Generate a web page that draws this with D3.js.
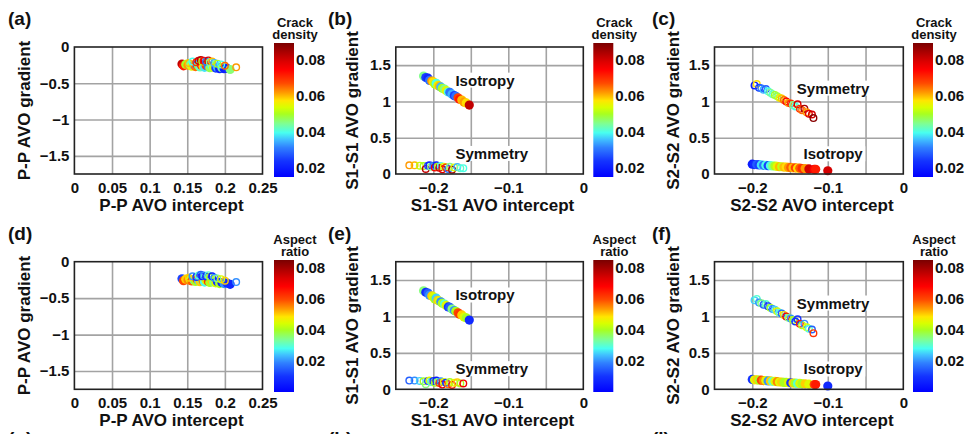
<!doctype html>
<html lang="en">
<head>
<meta charset="utf-8">
<title>AVO intercept and gradient</title>
<script src="https://d3js.org/d3.v7.min.js"></script>
<style>
  body { margin: 0; background: #fff; }
  svg text { font-family: "Liberation Sans", Arial, sans-serif; font-weight: bold; fill: #111; }
</style>
</head>
<body>
<svg width="968" height="434"></svg>
<script>
var svg = d3.select('svg');

// P-P: isotropic background (filled) and symmetry (open)
var ppIsoX = [0.143, 0.145, 0.148, 0.151, 0.154, 0.156, 0.159, 0.161, 0.163, 0.165, 0.167, 0.169, 0.171, 0.173, 0.175, 0.178, 0.180, 0.183, 0.185, 0.188, 0.190, 0.193, 0.196, 0.199, 0.203, 0.207];
var ppIsoY = [-0.235, -0.26, -0.24, -0.25, -0.245, -0.265, -0.25, -0.27, -0.24, -0.26, -0.275, -0.25, -0.265, -0.28, -0.255, -0.27, -0.285, -0.26, -0.28, -0.29, -0.275, -0.30, -0.285, -0.30, -0.295, -0.31];
var ppIsoCrack = [0.082, 0.072, 0.05, 0.062, 0.045, 0.055, 0.035, 0.065, 0.028, 0.052, 0.042, 0.075, 0.058, 0.038, 0.068, 0.03, 0.048, 0.04, 0.055, 0.025, 0.035, 0.02, 0.045, 0.02, 0.022, 0.046];
var ppIsoAspect = [0.012, 0.06, 0.05, 0.055, 0.045, 0.058, 0.03, 0.04, 0.06, 0.025, 0.05, 0.035, 0.055, 0.028, 0.045, 0.062, 0.04, 0.05, 0.035, 0.045, 0.01, 0.04, 0.005, 0.02, 0.01, 0.008];

var ppSymX = [0.152, 0.157, 0.162, 0.165, 0.168, 0.170, 0.172, 0.175, 0.178, 0.180, 0.183, 0.186, 0.190, 0.195, 0.200, 0.215];
var ppSymY = [-0.22, -0.20, -0.21, -0.19, -0.18, -0.20, -0.19, -0.20, -0.185, -0.21, -0.20, -0.22, -0.23, -0.24, -0.26, -0.28];
var ppSymCrack = [0.06, 0.04, 0.07, 0.08, 0.083, 0.05, 0.075, 0.03, 0.08, 0.045, 0.06, 0.035, 0.05, 0.04, 0.065, 0.062];
var ppSymAspect = [0.05, 0.02, 0.01, 0.03, 0.015, 0.005, 0.02, 0.01, 0.03, 0.04, 0.005, 0.02, 0.035, 0.045, 0.05, 0.02];

// S1-S1
var s1IsoX = [-0.213, -0.210, -0.207, -0.205, -0.202, -0.200, -0.198, -0.196, -0.194, -0.192, -0.190, -0.188, -0.185, -0.183, -0.180, -0.178, -0.175, -0.172, -0.170, -0.167, -0.165, -0.162, -0.159, -0.156, -0.152];
var s1IsoY = [1.35, 1.33, 1.32, 1.29, 1.28, 1.27, 1.24, 1.25, 1.22, 1.21, 1.2, 1.18, 1.17, 1.15, 1.13, 1.125, 1.1, 1.08, 1.07, 1.05, 1.03, 1.02, 0.99, 0.98, 0.95];
var s1IsoCrack = [0.045, 0.025, 0.022, 0.03, 0.062, 0.058, 0.05, 0.04, 0.055, 0.06, 0.035, 0.05, 0.045, 0.055, 0.04, 0.03, 0.035, 0.025, 0.03, 0.068, 0.072, 0.06, 0.062, 0.058, 0.082];
var s1IsoAspect = [0.035, 0.008, 0.015, 0.02, 0.05, 0.045, 0.04, 0.025, 0.05, 0.045, 0.02, 0.04, 0.03, 0.045, 0.01, 0.015, 0.035, 0.02, 0.04, 0.06, 0.062, 0.05, 0.045, 0.04, 0.008];

var s1SymX = [-0.232, -0.225, -0.218, -0.213, -0.210, -0.207, -0.205, -0.203, -0.200, -0.198, -0.196, -0.194, -0.192, -0.190, -0.188, -0.186, -0.183, -0.180, -0.178, -0.175, -0.172, -0.168, -0.164, -0.160];
var s1SymY = [0.12, 0.12, 0.115, 0.11, 0.07, 0.115, 0.12, 0.1, 0.115, 0.09, 0.12, 0.1, 0.085, 0.11, 0.065, 0.1, 0.09, 0.07, 0.1, 0.06, 0.09, 0.095, 0.08, 0.08];
var s1SymCrack = [0.062, 0.06, 0.052, 0.05, 0.082, 0.025, 0.022, 0.045, 0.03, 0.075, 0.02, 0.05, 0.08, 0.04, 0.078, 0.055, 0.07, 0.03, 0.045, 0.085, 0.055, 0.035, 0.042, 0.04];
var s1SymAspect = [0.015, 0.02, 0.025, 0.04, 0.035, 0.01, 0.045, 0.03, 0.01, 0.04, 0.005, 0.035, 0.06, 0.02, 0.07, 0.045, 0.01, 0.055, 0.04, 0.065, 0.045, 0.05, 0.04, 0.07];

// S2-S2
var s2SymX = [-0.197, -0.194, -0.191, -0.188, -0.185, -0.182, -0.179, -0.176, -0.173, -0.170, -0.167, -0.164, -0.161, -0.158, -0.155, -0.152, -0.149, -0.146, -0.143, -0.140, -0.137, -0.134, -0.131, -0.128, -0.125, -0.121, -0.119];
var s2SymY = [1.22, 1.24, 1.19, 1.18, 1.16, 1.17, 1.14, 1.12, 1.10, 1.09, 1.07, 1.05, 1.04, 1.02, 1.00, 0.98, 0.97, 0.95, 0.93, 0.96, 0.90, 0.88, 0.90, 0.85, 0.83, 0.82, 0.77];
var s2SymCrack = [0.02, 0.058, 0.025, 0.03, 0.035, 0.028, 0.04, 0.045, 0.042, 0.05, 0.048, 0.055, 0.06, 0.065, 0.075, 0.062, 0.07, 0.045, 0.04, 0.08, 0.07, 0.065, 0.085, 0.062, 0.078, 0.08, 0.088];
var s2SymAspect = [0.025, 0.03, 0.02, 0.035, 0.015, 0.03, 0.01, 0.04, 0.02, 0.025, 0.045, 0.03, 0.015, 0.05, 0.07, 0.035, 0.02, 0.04, 0.01, 0.01, 0.065, 0.04, 0.02, 0.045, 0.03, 0.015, 0.062];

var s2IsoX = [-0.200, -0.197, -0.194, -0.191, -0.188, -0.185, -0.182, -0.179, -0.176, -0.173, -0.170, -0.167, -0.164, -0.161, -0.158, -0.155, -0.152, -0.149, -0.146, -0.143, -0.140, -0.137, -0.134, -0.130, -0.125, -0.118, -0.116, -0.100];
var s2IsoY = [0.135, 0.13, 0.13, 0.125, 0.125, 0.12, 0.12, 0.115, 0.115, 0.11, 0.11, 0.105, 0.10, 0.10, 0.095, 0.095, 0.09, 0.09, 0.085, 0.085, 0.08, 0.08, 0.075, 0.075, 0.07, 0.065, 0.065, 0.045];
var s2IsoCrack = [0.02, 0.022, 0.028, 0.025, 0.038, 0.03, 0.04, 0.025, 0.04, 0.045, 0.05, 0.055, 0.06, 0.052, 0.06, 0.058, 0.062, 0.066, 0.06, 0.068, 0.058, 0.066, 0.07, 0.062, 0.08, 0.075, 0.072, 0.08];
var s2IsoAspect = [0.01, 0.045, 0.05, 0.04, 0.06, 0.055, 0.045, 0.02, 0.05, 0.03, 0.045, 0.055, 0.045, 0.05, 0.04, 0.04, 0.045, 0.01, 0.05, 0.04, 0.03, 0.045, 0.04, 0.05, 0.045, 0.06, 0.065, 0.008];

// ticks
var ppXTicks = [0, 0.05, 0.1, 0.15, 0.2, 0.25];
var ppYTicks = [0, -0.5, -1, -1.5];
var sXTicks = [-0.2, -0.1, 0];
var sXGrid = [-0.2, -0.15, -0.1, -0.05];
var sYTicks = [0, 0.5, 1, 1.5];
var barTicks = [0.02, 0.04, 0.06, 0.08];

// jet-like colour map, bottom -> top
var cmapPos = [0, 0.12, 0.22, 0.28, 0.33, 0.40, 0.47, 0.52, 0.57, 0.63, 0.70, 0.80, 0.86, 1.0];
var cmapCol = ['#0000ff', '#1434ff', '#3080ff', '#40c0ff', '#48fff0', '#80ff90', '#a8ff20', '#d8ff00', '#ffe600', '#ff9a00', '#ff4a00', '#ff0000', '#dd0000', '#7a0000'];
var cmap = d3.scaleLinear().domain(cmapPos).range(cmapCol).clamp(true);

var grad = svg.append('defs').append('linearGradient')
  .attr('id', 'jet').attr('x1', 0).attr('y1', 1).attr('x2', 0).attr('y2', 0);
cmapPos.forEach(function(p, i){
  grad.append('stop').attr('offset', p).attr('stop-color', cmapCol[i]);
});

var cols = [
  {x0: 74.4, x1: 262.5, bar: 274, ylab: 30, lab: 8},
  {x0: 395.8, x1: 583.3, bar: 593.3, ylab: 358, lab: 328},
  {x0: 714.5, x1: 903.3, bar: 913, ylab: 679, lab: 652}
];
var rows = [
  {y0: 47, y1: 174, b0: 43, b1: 177, dom: [0.015, 0.0895], title: ['Crack', 'density'], key: 'crack', labY: 25},
  {y0: 261.7, y1: 389.3, b0: 260, b1: 392, dom: [0, 0.085], title: ['Aspect', 'ratio'], key: 'aspect', labY: 240}
];

function series(x, y, crack, aspect, filled){
  return x.map(function(d, i){ return {x: d, y: y[i], crack: crack[i], aspect: aspect[i], filled: filled}; });
}

var kinds = [
  {
    xdom: [0, 0.25], ydom: [-1.75, 0], xticks: ppXTicks, xgrid: [0.05, 0.1, 0.15, 0.2], yticks: ppYTicks, ygrid: [-0.5, -1, -1.5],
    xlab: 'P-P AVO intercept', ylab: 'P-P AVO gradient',
    pts: series(ppIsoX, ppIsoY, ppIsoCrack, ppIsoAspect, true).concat(series(ppSymX, ppSymY, ppSymCrack, ppSymAspect, false)),
    notes: []
  },
  {
    xdom: [-0.25, 0], ydom: [0, 1.75], xticks: sXTicks, xgrid: sXGrid, yticks: sYTicks, ygrid: [0.5, 1, 1.5],
    xlab: 'S1-S1 AVO intercept', ylab: 'S1-S1 AVO gradient',
    pts: series(s1SymX, s1SymY, s1SymCrack, s1SymAspect, false).concat(series(s1IsoX, s1IsoY, s1IsoCrack, s1IsoAspect, true)),
    notes: [{t: 'Isotropy', x: -0.131, y: 1.29}, {t: 'Symmetry', x: -0.122, y: 0.28}]
  },
  {
    xdom: [-0.25, 0], ydom: [0, 1.75], xticks: sXTicks, xgrid: sXGrid, yticks: sYTicks, ygrid: [0.5, 1, 1.5],
    xlab: 'S2-S2 AVO intercept', ylab: 'S2-S2 AVO gradient',
    pts: series(s2IsoX, s2IsoY, s2IsoCrack, s2IsoAspect, true).concat(series(s2SymX, s2SymY, s2SymCrack, s2SymAspect, false)),
    notes: [{t: 'Symmetry', x: -0.093, y: 1.18}, {t: 'Isotropy', x: -0.093, y: 0.275}]
  }
];

var fmt = function(d){ return d === 0 ? '0' : (d < 0 ? '\u2212' : '') + Math.abs(d); };
var labels = [['(a)', '(b)', '(c)'], ['(d)', '(e)', '(f)']];

rows.forEach(function(row, ri){
  cols.forEach(function(col, ci){
    var k = kinds[ci];
    var x = d3.scaleLinear().domain(k.xdom).range([col.x0, col.x1]);
    var y = d3.scaleLinear().domain(k.ydom).range([row.y1, row.y0]);
    var c = d3.scaleLinear().domain(row.dom).range([0, 1]);
    var g = svg.append('g');
    var h = row.y1 - row.y0, w = col.x1 - col.x0;

    // grid
    g.append('g').attr('transform', 'translate(0,' + row.y1 + ')')
      .call(d3.axisBottom(x).tickValues(k.xgrid).tickSize(-h).tickFormat(''))
      .call(function(s){ s.select('.domain').remove(); s.selectAll('line').attr('stroke', '#a3a3a3').attr('stroke-width', 1.6); });
    g.append('g').attr('transform', 'translate(' + col.x0 + ',0)')
      .call(d3.axisLeft(y).tickValues(k.ygrid).tickSize(-w).tickFormat(''))
      .call(function(s){ s.select('.domain').remove(); s.selectAll('line').attr('stroke', '#a3a3a3').attr('stroke-width', 1.6); });

    // tick labels
    g.append('g').attr('transform', 'translate(0,' + row.y1 + ')')
      .call(d3.axisBottom(x).tickValues(k.xticks).tickSize(0).tickPadding(8).tickFormat(fmt))
      .call(function(s){ s.select('.domain').remove(); s.selectAll('text').attr('font-size', 15).attr('font-family', null); });
    g.append('g').attr('transform', 'translate(' + col.x0 + ',0)')
      .call(d3.axisLeft(y).tickValues(k.yticks).tickSize(0).tickPadding(5).tickFormat(fmt))
      .call(function(s){ s.select('.domain').remove(); s.selectAll('text').attr('font-size', 15).attr('font-family', null); });

    // points
    g.append('g').selectAll('circle').data(k.pts).join('circle')
      .attr('cx', function(d){ return x(d.x); })
      .attr('cy', function(d){ return y(d.y); })
      .attr('r', function(d){ return d.filled ? 4.6 : 3.3; })
      .attr('fill', function(d){ return d.filled ? cmap(c(d[row.key])) : 'none'; })
      .attr('stroke', function(d){ return d.filled ? 'none' : cmap(c(d[row.key])); })
      .attr('stroke-width', 1.4);

    // annotations with white box
    k.notes.forEach(function(n){
      var t = g.append('text').attr('x', x(n.x)).attr('y', y(n.y)).attr('dy', '0.35em')
        .attr('text-anchor', 'middle').attr('font-size', 15).text(n.t);
      var bb = t.node().getBBox();
      g.insert('rect', function(){ return t.node(); })
        .attr('x', bb.x - 2).attr('y', bb.y + 1).attr('width', bb.width + 4).attr('height', bb.height - 2)
        .attr('fill', '#fff');
    });

    // frame
    g.append('rect').attr('x', col.x0).attr('y', row.y0).attr('width', w).attr('height', h)
      .attr('fill', 'none').attr('stroke', '#222').attr('stroke-width', 1.6);

    // axis titles
    g.append('text').attr('x', (col.x0 + col.x1) / 2 + 3).attr('y', row.y1 + 37)
      .attr('text-anchor', 'middle').attr('font-size', 17).text(k.xlab);
    g.append('text').attr('transform', 'translate(' + col.ylab + ',' + ((row.y0 + row.y1) / 2) + ') rotate(-90)')
      .attr('text-anchor', 'middle').attr('font-size', 17).text(k.ylab);

    // panel label
    g.append('text').attr('x', col.lab).attr('y', row.labY).attr('font-size', 19).text(labels[ri][ci]);

    // colour bar
    var cb = d3.scaleLinear().domain(row.dom).range([row.b1, row.b0]);
    g.append('rect').attr('x', col.bar).attr('y', row.b0).attr('width', 20).attr('height', row.b1 - row.b0)
      .attr('fill', 'url(#jet)');
    g.append('g').attr('transform', 'translate(' + (col.bar + 20) + ',0)')
      .call(d3.axisRight(cb).tickValues(barTicks).tickSize(0).tickPadding(2).tickFormat(d3.format('.2f')))
      .call(function(s){ s.select('.domain').remove(); s.selectAll('text').attr('font-size', 15).attr('font-family', null); });
    var tt = g.append('text').attr('text-anchor', 'middle').attr('font-size', 13);
    tt.append('tspan').attr('x', col.bar + 21).attr('y', row.b0 - 16).text(row.title[0]);
    tt.append('tspan').attr('x', col.bar + 21).attr('y', row.b0 - 4).text(row.title[1]);
  });
});

// labels of the row below, cut off by the frame edge
['(g)', '(h)', '(i)'].forEach(function(l, i){
  svg.append('text').attr('x', cols[i].lab).attr('y', 445).attr('font-size', 19).text(l);
});
</script>
</body>
</html>
